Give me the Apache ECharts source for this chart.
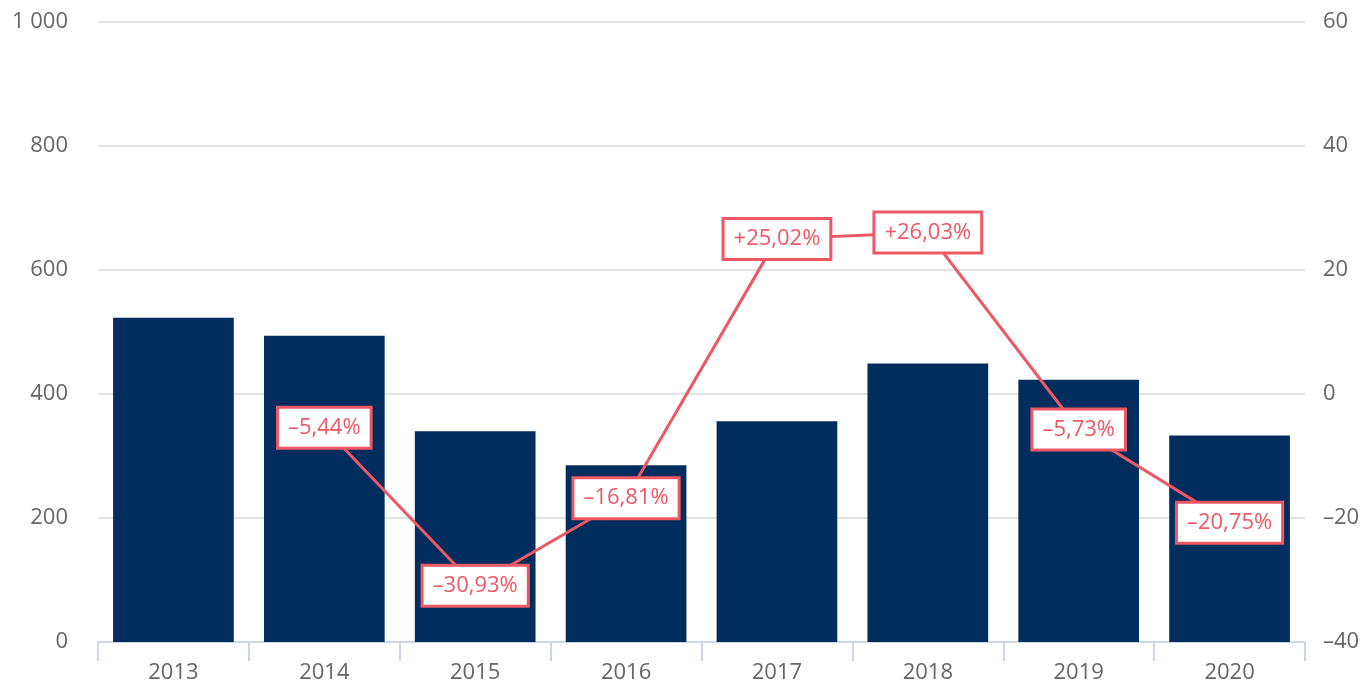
<!doctype html>
<html>
    <head>
        <meta charset="utf-8">
        <title>Bars and change</title>
        <style>
            html, body { margin: 0; padding: 0; background: #fff; }
            #main { width: 1365px; height: 684px; }
        </style>
    </head>
    <body>
        <div id="main"></div>
        <script src="https://cdn.jsdelivr.net/npm/echarts@6/dist/echarts.min.js"></script>
        <script>
            var years = ['2013', '2014', '2015', '2016', '2017', '2018', '2019', '2020'];
            var barValues = [523, 494, 340, 285, 356, 449, 423, 333];
            var changeValues = ['-', -5.44, -30.93, -16.81, 25.02, 26.03, -5.73, -20.75];

            var chart = echarts.init(document.getElementById('main'));

            function dash(s) {
                return String(s).replace('-', '\u2013');
            }

            chart.setOption({
                animation: false,
                textStyle: { fontFamily: 'Open Sans' },
                grid: { left: 98, right: 60, top: 22, bottom: 41 },
                xAxis: {
                    type: 'category',
                    data: years,
                    axisLine: { lineStyle: { color: '#ccd6eb', width: 2 } },
                    axisTick: { show: true, interval: 0, length: 19, lineStyle: { color: '#ccd6eb', width: 2 } },
                    axisLabel: { color: '#666', fontSize: 22, margin: 20 }
                },
                yAxis: [{
                    type: 'value',
                    min: 0,
                    max: 1000,
                    interval: 200,
                    axisLabel: {
                        color: '#666',
                        fontSize: 22,
                        margin: 30,
                        formatter: function (v) {
                            return v >= 1000 ? '1 000' : String(v);
                        }
                    },
                    splitLine: { lineStyle: { color: '#e3e3e3', width: 2 } }
                }, {
                    type: 'value',
                    min: -40,
                    max: 60,
                    interval: 20,
                    axisLabel: {
                        color: '#666',
                        fontSize: 22,
                        margin: 18,
                        formatter: function (v) { return dash(v); }
                    },
                    splitLine: { show: false }
                }],
                series: [{
                    type: 'bar',
                    data: barValues,
                    barCategoryGap: '20%',
                    itemStyle: { color: '#002d5d' }
                }, {
                    type: 'line',
                    yAxisIndex: 1,
                    data: changeValues,
                    showSymbol: true,
                    symbol: 'circle',
                    symbolSize: 1,
                    itemStyle: { color: 'rgba(238,87,100,0)' },
                    lineStyle: { color: '#ee5764', width: 3 },
                    labelLayout: { hideOverlap: false },
                    label: {
                        show: true,
                        position: 'inside',
                        color: '#ee5764',
                        fontSize: 22,
                        backgroundColor: '#fff',
                        borderColor: '#ee5764',
                        borderWidth: 3,
                        padding: [9, 9, 7, 9],
                        formatter: function (p) {
                            var v = p.value;
                            var s = Math.abs(v).toFixed(2).replace('.', ',');
                            return (v > 0 ? '+' : '\u2013') + s + '%';
                        }
                    }
                }]
            });
        </script>
    </body>
</html>
